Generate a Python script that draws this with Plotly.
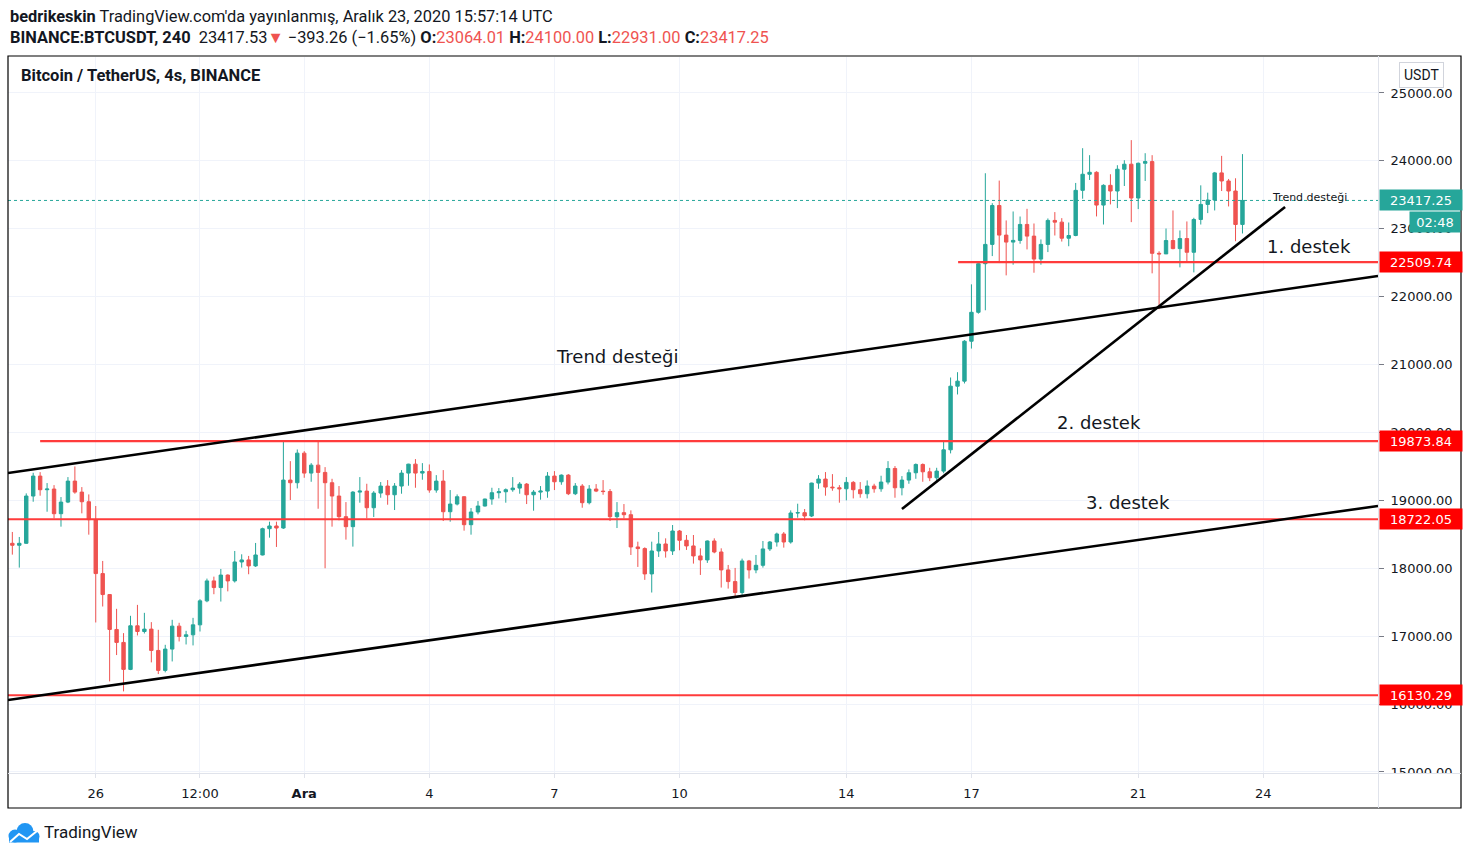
import plotly.graph_objects as go
import pandas as pd

W, H = 1470, 856

# BTCUSDT 4s mumlar, 24 Kasım 2020 00:00'dan başlayarak
opens = [
    18368, 18339, 18368, 19064, 19358, 19157, 19167, 18804, 18975, 19284,
    19122, 18980, 18716, 17922, 17613, 17099, 16908, 16511, 17153, 17069,
    17104, 16790, 16496, 16810, 17148, 16996, 17020, 17167, 17520, 17814,
    17716, 17900, 17814, 18093, 18123, 18035, 18196, 18583, 18623, 18593,
    19299, 19260, 19696, 19402, 19519, 19412, 19260, 19064, 18760, 18613,
    19122, 19137, 18892, 19108, 19211, 19083, 19211, 19402, 19534, 19402,
    19426, 19152, 19284, 18833, 18946, 19054, 18642, 18829, 18917, 19020,
    19113, 19127, 19157, 19181, 19240, 19083, 19122, 19137, 19358, 19274,
    19372, 19098, 19211, 18966, 19167, 19137, 19130, 18760, 18819, 18789,
    18314, 18290, 17917, 18255, 18358, 18255, 18549, 18412, 18329, 18182,
    18123, 18402, 18240, 17976, 17804, 17643, 18108, 17976, 18044, 18285,
    18387, 18505, 18387, 18814, 18819, 18770, 19255, 19314, 19196, 19186,
    19171, 19265, 19157, 19098, 19211, 19171, 19270, 19470, 19186, 19299,
    19407, 19529, 19421, 19333, 19431, 19745, 20682, 20756, 21344, 21770,
    22486, 22770, 23343, 22907, 22804, 22829, 23064, 22892, 22554, 22770,
    23123, 23098, 22861, 22901, 23566, 23803, 23832, 23349, 23640, 23556,
    23877, 23951, 23453, 23965, 23990, 22639, 22630, 22827, 22708, 22856,
    22654, 23137, 23359, 23423, 23823, 23704, 23556, 23064.01,
]
highs = [
    18535, 18461, 19103, 19407, 19416, 19255, 19225, 19049, 19343, 19500,
    19196, 19088, 18917, 18108, 17620, 17403, 17045, 17300, 17461, 17344,
    17207, 17094, 16873, 17241, 17197, 17079, 17270, 17545, 17848, 17877,
    17990, 17910, 18255, 18206, 18182, 18373, 18598, 18686, 18686, 19872,
    19578, 19750, 19725, 19549, 19887, 19490, 19318, 19211, 18975, 19137,
    19343, 19245, 19137, 19270, 19299, 19255, 19446, 19539, 19608, 19549,
    19529, 19372, 19446, 19152, 19088, 19060, 18887, 18990, 19025, 19186,
    19181, 19176, 19343, 19270, 19255, 19152, 19211, 19417, 19431, 19382,
    19387, 19255, 19240, 19225, 19240, 19299, 19167, 18975, 18946, 18853,
    18392, 18309, 18392, 18534, 18441, 18637, 18564, 18490, 18490, 18294,
    18410, 18441, 18294, 18049, 18005, 18142, 18123, 18196, 18402, 18402,
    18525, 18534, 18853, 18951, 18873, 19260, 19372, 19417, 19387, 19225,
    19343, 19284, 19270, 19294, 19245, 19363, 19578, 19505, 19358, 19456,
    19544, 19544, 19480, 19480, 19864, 20810, 20888, 21360, 22182, 22510,
    23818, 23377, 23710, 23123, 23255, 23181, 23294, 23078, 22843, 23152,
    23246, 23157, 23093, 23675, 24187, 24084, 23847, 23655, 23803, 23936,
    24010, 24306, 23975, 24113, 24084, 22669, 23004, 23270, 22975, 23108,
    23162, 23640, 23532, 23837, 24074, 23734, 23744, 24100.00,
]
lows = [
    18201, 18010, 18360, 18980, 19069, 18833, 18735, 18613, 18960, 19098,
    18809, 18495, 17202, 17437, 16334, 16722, 16187, 16500, 17011, 17040,
    16614, 16442, 16467, 16628, 16922, 16878, 16864, 17069, 17500, 17618,
    17510, 17660, 17790, 18010, 17912, 18020, 18190, 18451, 18314, 18580,
    19005, 19176, 19333, 19274, 18877, 18000, 18613, 18706, 18422, 18319,
    18966, 18735, 18755, 19039, 18936, 18858, 19098, 19216, 19186, 19304,
    19113, 19113, 18696, 18686, 18926, 18554, 18495, 18794, 18910, 18936,
    19029, 18966, 19127, 19098, 18946, 18848, 19010, 19039, 19152, 19230,
    19078, 19078, 18892, 18941, 19122, 19083, 18696, 18593, 18735, 18196,
    18020, 17829, 17643, 18167, 18157, 18196, 18265, 18270, 18069, 17902,
    18079, 18221, 17716, 17701, 17579, 17608, 17849, 17927, 18010, 18255,
    18319, 18304, 18363, 18745, 18706, 18755, 19171, 19069, 19142, 18966,
    19000, 19029, 19039, 19029, 19113, 19127, 19235, 19039, 19074, 19245,
    19318, 19274, 19284, 19274, 19400, 19692, 20560, 20722, 21236, 21750,
    21800, 22598, 22495, 22314, 22471, 22780, 22696, 22353, 22471, 22657,
    22901, 22812, 22743, 22890, 23443, 23719, 23182, 23063, 23359, 23305,
    23630, 23098, 23290, 23704, 22344, 21816, 22630, 22698, 22432, 22496,
    22358, 23063, 23231, 23270, 23556, 23329, 22817, 22931.00,
]
closes = [
    18339, 18368, 19064, 19358, 19157, 19167, 18804, 18975, 19284, 19122,
    18980, 18716, 17922, 17613, 17099, 16908, 16511, 17153, 17069, 17104,
    16790, 16496, 16810, 17148, 16996, 17020, 17167, 17520, 17814, 17716,
    17900, 17814, 18093, 18123, 18035, 18196, 18583, 18623, 18593, 19299,
    19260, 19696, 19402, 19519, 19412, 19260, 19064, 18760, 18613, 19122,
    19137, 18892, 19108, 19211, 19083, 19211, 19402, 19534, 19402, 19426,
    19152, 19284, 18833, 18946, 19054, 18642, 18829, 18917, 19020, 19113,
    19127, 19157, 19181, 19240, 19083, 19122, 19137, 19358, 19274, 19372,
    19098, 19211, 18966, 19167, 19137, 19130, 18760, 18819, 18789, 18314,
    18290, 17917, 18255, 18358, 18255, 18549, 18412, 18329, 18182, 18123,
    18402, 18240, 17976, 17804, 17643, 18108, 17976, 18044, 18285, 18387,
    18505, 18387, 18814, 18819, 18770, 19255, 19314, 19196, 19186, 19171,
    19265, 19157, 19098, 19211, 19171, 19270, 19470, 19186, 19299, 19407,
    19529, 19421, 19333, 19431, 19745, 20682, 20756, 21344, 21770, 22486,
    22770, 23343, 22907, 22804, 22829, 23064, 22892, 22554, 22770, 23123,
    23098, 22861, 22901, 23566, 23803, 23832, 23349, 23640, 23556, 23877,
    23951, 23453, 23965, 23990, 22639, 22630, 22827, 22708, 22856, 22654,
    23137, 23359, 23423, 23823, 23704, 23556, 23063, 23417.25,
]

# çizimler (trend çizgileri ve destek seviyeleri)
trend_upper_t = ['2020-11-23 21:30', '2020-12-26 18:00']
trend_upper_p = [19404, 22305]
trend_lower_t = ['2020-11-23 21:30', '2020-12-26 18:00']
trend_lower_p = [16060, 18918]
support_t = ['2020-12-15 08:00', '2020-12-24 12:30']
support_p = [18873, 23321]

levels = [22509.74, 19873.84, 18722.05, 16130.29]
level_start = ['2020-12-16 16:20', '2020-11-24 16:00', '2020-11-23 21:30', '2020-11-23 21:30']
last_price = 23417.25

x_start, x_end = '2020-11-23 21:30', '2020-12-26 18:00'
y_min, y_max = 14985, 25530

x_tickvals = ['2020-11-26', '2020-11-28 12:00', '2020-12-01', '2020-12-04', '2020-12-07',
              '2020-12-10', '2020-12-14', '2020-12-17', '2020-12-21', '2020-12-24']
x_ticktext = ['26', '12:00', '<b>Ara</b>', '4', '7', '10', '14', '17', '21', '24']
y_tickvals = [15000, 16000, 17000, 18000, 19000, 20000, 21000, 22000, 23000, 24000, 25000]

GREEN = '#26a69a'
RED = '#ef5350'
LINE_RED = '#ff3b3b'
GRID = '#f0f3fa'
TXT = '#131722'
AXFONT = 'DejaVu Sans'
HDFONT = 'Roboto'


def px(x):
    return x / W


def py(y):
    return 1 - y / H


times = pd.date_range('2020-11-24 00:00', periods=len(opens), freq='4h')

fig = go.Figure()

fig.add_trace(go.Candlestick(
    x=times, open=opens, high=highs, low=lows, close=closes,
    increasing=dict(line=dict(color=GREEN, width=1), fillcolor=GREEN),
    decreasing=dict(line=dict(color=RED, width=1), fillcolor=RED),
    whiskerwidth=0, hoverinfo='skip', showlegend=False,
))

# son fiyat noktalı çizgisi
fig.add_trace(go.Scatter(
    x=[x_start, x_end], y=[last_price, last_price], mode='lines',
    line=dict(color=GREEN, width=1, dash='dot'), hoverinfo='skip', showlegend=False,
))

# yatay destek seviyeleri
for lvl, t0 in zip(levels, level_start):
    fig.add_trace(go.Scatter(
        x=[t0, x_end], y=[lvl, lvl], mode='lines',
        line=dict(color=LINE_RED, width=2.2), hoverinfo='skip', showlegend=False,
    ))

# trend çizgileri
for tt, pp in [(trend_upper_t, trend_upper_p), (trend_lower_t, trend_lower_p), (support_t, support_p)]:
    fig.add_trace(go.Scatter(
        x=tt, y=pp, mode='lines',
        line=dict(color='black', width=2.6), hoverinfo='skip', showlegend=False,
    ))

annotations = []

# grafik üzerindeki yazılar
chart_texts = [
    ('Trend desteği', '2020-12-08 12:00', 21112, 18),
    ('1. destek', '2020-12-25 02:20', 22732, 18),
    ('2. destek', '2020-12-20 01:20', 20140, 18),
    ('3. destek', '2020-12-20 18:00', 18962, 18),
    ('Trend desteği', '2020-12-25 02:50', 23454, 11),
]
for txt, tx, ty, sz in chart_texts:
    annotations.append(dict(
        x=tx, y=ty, xref='x', yref='y', text=txt, showarrow=False,
        font=dict(family=AXFONT, size=sz, color=TXT), xanchor='center', yanchor='middle',
    ))

# fiyat ekseni etiketleri
for lvl in levels:
    annotations.append(dict(
        x=px(1379), y=lvl, xref='paper', yref='y', text=f'{lvl:.2f}', showarrow=False,
        xanchor='left', yanchor='middle', bgcolor='#ff0000', width=78, height=16, borderpad=2,
        font=dict(family=AXFONT, size=13, color='white'),
    ))
annotations.append(dict(
    x=px(1379), y=last_price, xref='paper', yref='y', text=f'{last_price:.2f}', showarrow=False,
    xanchor='left', yanchor='middle', bgcolor=GREEN, width=78, height=16, borderpad=2,
    font=dict(family=AXFONT, size=13, color='white'),
))
annotations.append(dict(
    x=px(1461), y=py(221.5), xref='paper', yref='paper', text='02:48', showarrow=False,
    xanchor='right', yanchor='middle', bgcolor=GREEN, width=46, height=16, borderpad=2,
    font=dict(family=AXFONT, size=13, color='white'),
))
annotations.append(dict(
    x=px(1421.5), y=py(75.5), xref='paper', yref='paper', text='USDT', showarrow=False,
    xanchor='center', yanchor='middle', bgcolor='white', bordercolor='#d1d4dc', borderwidth=1,
    borderpad=4, font=dict(family=HDFONT, size=14, color=TXT),
))

# başlıklar
annotations.append(dict(
    x=px(8), y=py(16), xref='paper', yref='paper', showarrow=False, xanchor='left', yanchor='middle',
    text="<b>bedrikeskin</b> TradingView.com'da yayınlanmış, Aralık 23, 2020 15:57:14 UTC",
    font=dict(family=HDFONT, size=16.4, color=TXT),
))
red_span = "<span style='color:%s'>%s</span>"
annotations.append(dict(
    x=px(8), y=py(38), xref='paper', yref='paper', showarrow=False, xanchor='left', yanchor='middle',
    text=("<b>BINANCE:BTCUSDT, 240</b>  23417.53" + red_span % (RED, '▼') + " −393.26 (−1.65%) "
          + "<b>O:</b>" + red_span % (RED, '23064.01') + " <b>H:</b>" + red_span % (RED, '24100.00')
          + " <b>L:</b>" + red_span % (RED, '22931.00') + " <b>C:</b>" + red_span % (RED, '23417.25')),
    font=dict(family=HDFONT, size=16.4, color=TXT),
))
annotations.append(dict(
    x=px(19), y=py(76), xref='paper', yref='paper', showarrow=False, xanchor='left', yanchor='middle',
    text='<b>Bitcoin / TetherUS, 4s, BINANCE</b>', font=dict(family=HDFONT, size=16.5, color=TXT),
))
annotations.append(dict(
    x=px(42), y=py(832), xref='paper', yref='paper', showarrow=False, xanchor='left', yanchor='middle',
    text='TradingView', font=dict(family=HDFONT, size=17, color=TXT),
))

shapes = [
    # çerçeve
    dict(type='rect', xref='paper', yref='paper', x0=px(8), x1=px(1461), y0=py(808), y1=py(56),
         line=dict(color='black', width=1.2)),
    dict(type='line', xref='paper', yref='paper', x0=px(1378.5), x1=px(1378.5), y0=py(808), y1=py(56),
         line=dict(color='#e0e3eb', width=1)),
    dict(type='line', xref='paper', yref='paper', x0=px(8), x1=px(1461), y0=py(773.5), y1=py(773.5),
         line=dict(color='#e0e3eb', width=1)),
    # 15000 etiketinin alt yarısını kapat
    dict(type='rect', xref='paper', yref='paper', x0=px(1379.5), x1=px(1460), y0=py(807), y1=py(774),
         fillcolor='white', line=dict(width=0), layer='above'),
]

# TradingView logosu (bulut)
logo_blue = '#2196f3'
for cx, cy, r in [(15, 836, 6.5), (25, 831.5, 8.5), (34, 836.5, 5.5)]:
    shapes.append(dict(type='circle', xref='paper', yref='paper',
                       x0=px(cx - r), x1=px(cx + r), y0=py(cy + r), y1=py(cy - r),
                       fillcolor=logo_blue, line=dict(width=0)))
shapes.append(dict(type='rect', xref='paper', yref='paper', x0=px(9), x1=px(39), y0=py(842.5), y1=py(836),
                   fillcolor=logo_blue, line=dict(width=0)))
logo_pts = [(10, 842), (19, 834), (27, 839), (37, 831)]
path = 'M ' + ' L '.join(f'{px(a):.5f},{py(b):.5f}' for a, b in logo_pts)
shapes.append(dict(type='path', xref='paper', yref='paper', path=path,
                   line=dict(color='white', width=2)))

fig.update_layout(
    template='none',
    width=W, height=H,
    margin=dict(l=0, r=0, t=0, b=0),
    paper_bgcolor='white', plot_bgcolor='white',
    showlegend=False,
    annotations=annotations,
    shapes=shapes,
    xaxis=dict(
        domain=[px(8), px(1378)], range=[x_start, x_end], type='date',
        tickvals=x_tickvals, ticktext=x_ticktext,
        showgrid=True, gridcolor=GRID, gridwidth=1,
        ticks='outside', ticklen=4, tickcolor='#e0e3eb', ticklabelstandoff=4,
        tickfont=dict(family=AXFONT, size=13, color=TXT),
        showline=False, zeroline=False, rangeslider=dict(visible=False),
        automargin=False, fixedrange=True,
    ),
    yaxis=dict(
        domain=[py(773), py(57)], range=[y_min, y_max], side='right',
        tickvals=y_tickvals, tickformat='.2f',
        showgrid=True, gridcolor=GRID, gridwidth=1,
        ticks='outside', ticklen=5, tickcolor='#787b86', ticklabelstandoff=4,
        tickfont=dict(family=AXFONT, size=13, color=TXT),
        showline=False, zeroline=False, automargin=False, fixedrange=True,
    ),
)

# sayfanın varsayılan 8px kenar boşluğunu kaldır
fig.write_html("out.html", config={'displayModeBar': False},
               post_script="document.body.style.margin='0';")
